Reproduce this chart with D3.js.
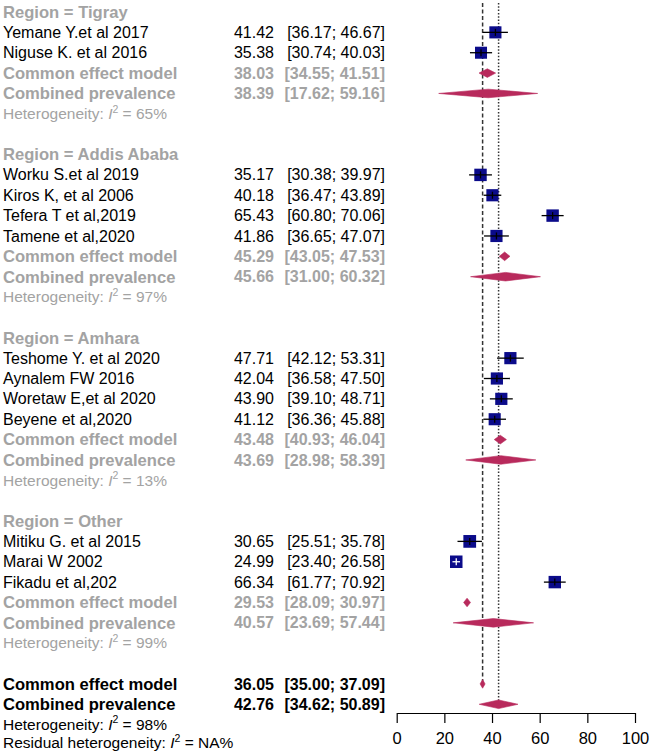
<!DOCTYPE html>
<html>
<head>
<meta charset="utf-8">
<script src="https://cdn.jsdelivr.net/npm/d3@7/dist/d3.min.js"></script>
<style>
  html, body { margin: 0; padding: 0; background: #fff; }
  svg text { font-family: Arial, "Liberation Sans", sans-serif; }
</style>
</head>
<body>
<svg id="chart" width="650" height="754"></svg>
<script>
// ---------------- data ----------------
const regions = ["Tigray", "Addis Ababa", "Amhara", "Other"];
const studyNames = [
  "Yemane Y.et al 2017", "Niguse K. et al 2016",
  "Worku S.et al 2019", "Kiros K, et al 2006", "Tefera T et al,2019", "Tamene et al,2020",
  "Teshome Y. et al 2020", "Aynalem FW 2016", "Woretaw E,et al 2020", "Beyene et al,2020",
  "Mitiku G. et al 2015", "Marai W 2002", "Fikadu et al,202"
];
const studyRegion = [0, 0, 1, 1, 1, 1, 2, 2, 2, 2, 3, 3, 3];
const studyEst   = [41.42, 35.38, 35.17, 40.18, 65.43, 41.86, 47.71, 42.04, 43.90, 41.12, 30.65, 24.99, 66.34];
const studyLower = [36.17, 30.74, 30.38, 36.47, 60.80, 36.65, 42.12, 36.58, 39.10, 36.36, 25.51, 23.40, 61.77];
const studyUpper = [46.67, 40.03, 39.97, 43.89, 70.06, 47.07, 53.31, 47.50, 48.71, 45.88, 35.78, 26.58, 70.92];
const studyWeight = [7.5, 7.4, 7.9, 7.6, 7.9, 7.6, 7.6, 7.6, 7.6, 7.5, 8.3, 8.0, 7.9];

const commonEst   = [38.03, 45.29, 43.48, 29.53];
const commonLower = [34.55, 43.05, 40.93, 28.09];
const commonUpper = [41.51, 47.53, 46.04, 30.97];
const randomEst   = [38.39, 45.66, 43.69, 40.57];
const randomLower = [17.62, 31.00, 28.98, 23.69];
const randomUpper = [59.16, 60.32, 58.39, 57.44];
const subgroupI2  = [65, 97, 13, 99];

const overallCommon = [36.05, 35.00, 37.09];
const overallRandom = [42.76, 34.62, 50.89];
const overallI2 = 98;
const residualI2 = "NA";

const xTicks = [0, 20, 40, 60, 80, 100];

// ---------------- layout ----------------
const svg = d3.select("#chart");
const x = d3.scaleLinear().domain([0, 100]).range([396.7, 635]);
const y = d3.scaleLinear().domain([0, 36]).range([12, 745]);

const GRAY = "#a3a3a3";
const NAVY = "#0b0b8a";
const DIAM = "#b82a5c";
const FS = 16;
const FSB = 16.6;
const FSH = 15.5;

// build rows
const rows = [];
let r = 0;
regions.forEach((reg, gi) => {
  rows.push({type: "header", row: r++, text: "Region = " + reg});
  studyNames.forEach((nm, i) => {
    if (studyRegion[i] === gi) rows.push({type: "study", row: r++, i});
  });
  rows.push({type: "sumC", row: r++, est: commonEst[gi], lo: commonLower[gi], hi: commonUpper[gi], color: GRAY, text: "Common effect model"});
  rows.push({type: "sumR", row: r++, est: randomEst[gi], lo: randomLower[gi], hi: randomUpper[gi], color: GRAY, text: "Combined prevalence"});
  rows.push({type: "het", row: r++, pre: "Heterogeneity: ", val: subgroupI2[gi] + "%", color: GRAY});
  r++;
});
rows.push({type: "sumC", row: r++, est: overallCommon[0], lo: overallCommon[1], hi: overallCommon[2], color: "#000", text: "Common effect model"});
rows.push({type: "sumR", row: r++, est: overallRandom[0], lo: overallRandom[1], hi: overallRandom[2], color: "#000", text: "Combined prevalence"});
rows.push({type: "het", row: r++, pre: "Heterogeneity: ", val: overallI2 + "%", color: "#000"});
rows.push({type: "het", row: r++, pre: "Residual heterogeneity: ", val: residualI2 + "%", color: "#000", shift: -2});

const fmt = d3.format(".2f");
const ciText = (lo, hi) => "[" + fmt(lo) + "; " + fmt(hi) + "]";

const labelX = 3, estX = 274, ciX = 385;

// vertical reference lines
const commonRowY = y(33), randomRowY = y(34);
svg.append("line")
  .attr("x1", x(overallCommon[0])).attr("x2", x(overallCommon[0]))
  .attr("y1", 3).attr("y2", commonRowY + 2)
  .attr("stroke", "#333").attr("stroke-width", 1.5).attr("stroke-dasharray", "4,2.5");
svg.append("line")
  .attr("x1", x(overallRandom[0])).attr("x2", x(overallRandom[0]))
  .attr("y1", 3).attr("y2", randomRowY - 3)
  .attr("stroke", "#333").attr("stroke-width", 1.5).attr("stroke-dasharray", "1.5,1.8");

const sizeScale = d3.scaleSqrt().domain([0, 8]).range([0, 12.5]);

const g = svg.append("g");
rows.forEach(d => {
  const cy = y(d.row);
  if (d.type === "header") {
    g.append("text").attr("x", labelX).attr("y", cy).attr("dy", "0.35em")
      .attr("font-size", FSB).attr("font-weight", "bold").attr("fill", GRAY).text(d.text);
  } else if (d.type === "study") {
    const i = d.i;
    g.append("text").attr("x", labelX).attr("y", cy).attr("dy", "0.35em")
      .attr("font-size", FS).attr("fill", "#000").text(studyNames[i]);
    g.append("text").attr("x", estX).attr("y", cy).attr("dy", "0.35em").attr("text-anchor", "end")
      .attr("font-size", FS).attr("fill", "#000").text(fmt(studyEst[i]));
    g.append("text").attr("x", ciX).attr("y", cy).attr("dy", "0.35em").attr("text-anchor", "end")
      .attr("font-size", FS).attr("fill", "#000").text(ciText(studyLower[i], studyUpper[i]));
    const s = sizeScale(studyWeight[i]);
    const cx = x(studyEst[i]);
    g.append("rect").attr("x", cx - s / 2).attr("y", cy - s / 2).attr("width", s).attr("height", s)
      .attr("fill", NAVY);
    const inside = x(studyLower[i]) >= cx - s / 2 && x(studyUpper[i]) <= cx + s / 2;
    const lc = inside ? "#fff" : "#000";
    g.append("line").attr("x1", x(studyLower[i])).attr("x2", x(studyUpper[i]))
      .attr("y1", cy).attr("y2", cy).attr("stroke", lc).attr("stroke-width", 1.3);
    g.append("line").attr("x1", cx).attr("x2", cx)
      .attr("y1", cy - 3.5).attr("y2", cy + 3.5).attr("stroke", lc).attr("stroke-width", 1.3);
  } else if (d.type === "sumC" || d.type === "sumR") {
    g.append("text").attr("x", labelX).attr("y", cy).attr("dy", "0.35em")
      .attr("font-size", FSB).attr("font-weight", "bold").attr("fill", d.color).text(d.text);
    g.append("text").attr("x", estX).attr("y", cy).attr("dy", "0.35em").attr("text-anchor", "end")
      .attr("font-size", FS).attr("font-weight", "bold").attr("fill", d.color).text(fmt(d.est));
    g.append("text").attr("x", ciX).attr("y", cy).attr("dy", "0.35em").attr("text-anchor", "end")
      .attr("font-size", FS).attr("font-weight", "bold").attr("fill", d.color).text(ciText(d.lo, d.hi));
    const h = 4.3;
    const pts = [[x(d.lo), cy], [x(d.est), cy - h], [x(d.hi), cy], [x(d.est), cy + h]];
    g.append("path").attr("d", d3.line()(pts) + "Z").attr("fill", DIAM).attr("stroke", DIAM).attr("stroke-width", 0.6);
  } else if (d.type === "het") {
    const base = cy + 5.3 + (d.shift || 0);
    const t = g.append("text").attr("x", labelX).attr("y", base)
      .attr("font-size", FSH).attr("fill", d.color);
    t.append("tspan").text(d.pre);
    t.append("tspan").attr("font-style", "italic").text("I");
    t.append("tspan").attr("font-size", 10.5).attr("dy", -6.5).text("2");
    t.append("tspan").attr("dy", 6.5).text(" = " + d.val);
  }
});

// axis
const axisY = 713;
const axis = d3.axisBottom(x).tickValues(xTicks).tickSize(10).tickSizeOuter(0).tickPadding(9)
  .tickFormat(d3.format("d"));
const ag = svg.append("g").attr("transform", `translate(0,${axisY})`).call(axis);
ag.select(".domain").attr("stroke", "#000").attr("stroke-width", 1.2);
ag.selectAll(".tick line").attr("stroke", "#000").attr("stroke-width", 1.2);
ag.selectAll(".tick text").attr("font-size", 16.5).attr("fill", "#000")
  .attr("font-family", "Arial, 'Liberation Sans', sans-serif");
</script>
</body>
</html>
